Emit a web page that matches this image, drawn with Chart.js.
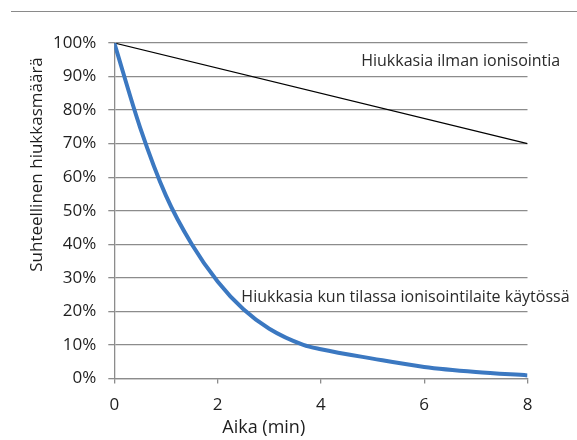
<!DOCTYPE html>
<html>
<head>
<meta charset="utf-8">
<script src="https://cdn.jsdelivr.net/npm/chart.js@4"></script>
<style>
  body { margin: 0; background: #fff; }
  .wrap { position: relative; width: 577px; height: 440px; }
  .topline { position: absolute; top: 11px; left: 11px; right: 0; border-top: 1px solid #8a8a8a; }
  canvas { position: absolute; left: 0; top: 0; }
</style>
</head>
<body>
<div class="wrap">
  <div class="topline"></div>
  <canvas id="chart" width="577" height="440"></canvas>
</div>
<script>
// values (x = minutes, y = percent)
const ionTime = [0, 0.5, 1, 1.5, 2, 2.5, 3, 3.66, 4, 5, 6, 7, 8];
const ionValues = [100, 74.8, 54.5, 40, 28.9, 20.6, 14.8, 10, 8.7, 5.9, 3.4, 1.9, 0.9];
const plainTime = [0, 8];
const plainValues = [100, 70];

const xTicks = [0, 2, 4, 6, 8];
const yTicks = [0, 10, 20, 30, 40, 50, 60, 70, 80, 90, 100];

const yTitle = 'Suhteellinen hiukkasmäärä';
const xTitle = 'Aika (min)';
const plainLabel = 'Hiukkasia ilman ionisointia';
const ionLabel = 'Hiukkasia kun tilassa ionisointilaite käytössä';

const fontFamily = '"Open Sans", "Noto Sans", sans-serif';
const textColor = '#1e1e1e';
const gridColor = '#8c8c8c';

const toPoints = (xs, ys) => xs.map((x, i) => ({ x: x, y: ys[i] }));

// annotation texts and the off-centre y title
const textPlugin = {
    id: 'texts',
    afterDraw(chart) {
        const ctx = chart.ctx;
        const xs = chart.scales.x;
        const ys = chart.scales.y;
        ctx.save();
        ctx.fillStyle = '#2a2a2a';
        ctx.font = '16px ' + fontFamily;
        ctx.textBaseline = 'middle';
        ctx.textAlign = 'left';
        ctx.fillText(plainLabel, xs.getPixelForValue(4.78), ys.getPixelForValue(94.6));
        ctx.fillText(ionLabel, xs.getPixelForValue(2.46), ys.getPixelForValue(24));

        ctx.fillStyle = textColor;
        ctx.font = '17px ' + fontFamily;
        ctx.translate(37, 164.5);
        ctx.rotate(-Math.PI / 2);
        ctx.textAlign = 'center';
        ctx.fillText(yTitle, 0, 0);
        ctx.restore();
    }
};

new Chart(document.getElementById('chart').getContext('2d'), {
    type: 'scatter',
    data: {
        datasets: [
            {
                label: plainLabel,
                data: toPoints(plainTime, plainValues),
                showLine: true,
                borderColor: '#000',
                borderWidth: 1.2,
                pointRadius: 0,
                order: 2
            },
            {
                label: ionLabel,
                data: toPoints(ionTime, ionValues),
                showLine: true,
                borderColor: '#3b78c1',
                borderWidth: 4,
                pointRadius: 0,
                cubicInterpolationMode: 'monotone',
                order: 1
            }
        ]
    },
    options: {
        responsive: false,
        animation: false,
        layout: { padding: { left: 0, top: 43, right: 49.5, bottom: 0 } },
        plugins: {
            legend: { display: false },
            tooltip: { enabled: false },
            title: {
                display: true,
                text: xTitle,
                position: 'bottom',
                color: textColor,
                font: { family: fontFamily, size: 18, weight: 'normal' },
                padding: { top: 0, bottom: 1 }
            }
        },
        scales: {
            x: {
                type: 'linear',
                min: 0,
                max: 8,
                afterBuildTicks: (scale) => { scale.ticks = xTicks.map(v => ({ value: v })); },
                afterFit: (scale) => { scale.height = 39; },
                ticks: { color: textColor, font: { family: fontFamily, size: 17 }, padding: 12, maxRotation: 0 },
                grid: { drawOnChartArea: false, drawTicks: true, tickLength: 5, color: gridColor, lineWidth: 1.3 },
                border: { display: true, color: gridColor, width: 1.3 }
            },
            y: {
                min: 0,
                max: 100,
                afterBuildTicks: (scale) => { scale.ticks = yTicks.map(v => ({ value: v })); },
                afterFit: (scale) => { scale.width = 114.3; },
                ticks: {
                    color: textColor,
                    font: { family: fontFamily, size: 17 },
                    padding: 12,
                    callback: (v) => v + '%'
                },
                grid: { color: gridColor, lineWidth: 1.3, drawTicks: true, tickLength: 6 },
                border: { display: true, color: gridColor, width: 1.3 }
            }
        }
    },
    plugins: [textPlugin]
});
</script>
</body>
</html>
